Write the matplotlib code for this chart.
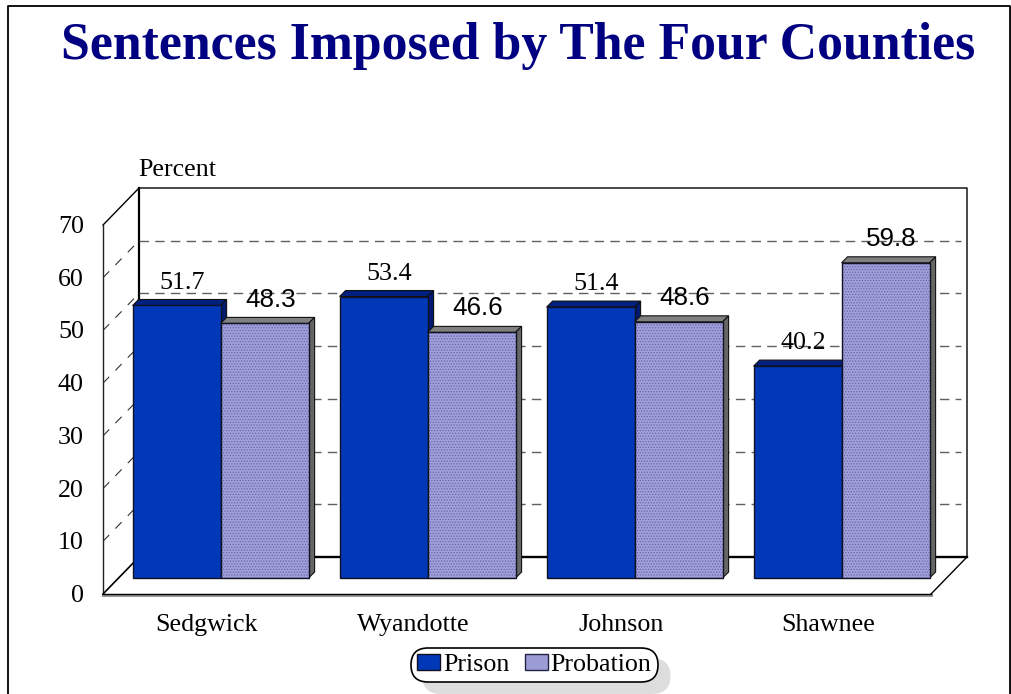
import matplotlib
matplotlib.use("Agg")
import matplotlib.pyplot as plt
from matplotlib.patches import Polygon, Patch

counties = ["Sedgwick", "Wyandotte", "Johnson", "Shawnee"]
prison = [51.7, 53.4, 51.4, 40.2]
probation = [48.3, 46.6, 48.6, 59.8]
yticks = [0, 10, 20, 30, 40, 50, 60, 70]

W, H = 1011, 694
SERIF = "Liberation Serif"
SANS = "Liberation Sans"
PX_PER_PCT = 5.271
GROUP_PX = 207.0
DEPTH = 6
FS = 18.7

fig = plt.figure(figsize=(W / 100, H / 100), dpi=100)

# box and outer frame live on a pixel axes under the bars
bg = fig.add_axes([0, 0, 1, 1])
bg.set_xlim(0, W)
bg.set_ylim(H, 0)
bg.axis("off")

# bars: x in group index, y in percent
ax = fig.add_axes([0, 0, 1, 1], facecolor="none")
ax.set_xlim(-220.6 / GROUP_PX, (W - 220.6) / GROUP_PX)
ax.set_ylim((578 - H) / PX_PER_PCT, 578 / PX_PER_PCT)
ax.axis("off")

dx = DEPTH / GROUP_PX
dy = DEPTH / PX_PER_PCT
bar_w = 88 / GROUP_PX


def front_y(v):
    return 594 - v * PX_PER_PCT


def back_y(v):
    return 557 - v * PX_PER_PCT


# outer frame
bg.plot([8.2, 8.2, 1010, 1010], [H, 5.5, 5.5, H], color="black", lw=1.3)

# 3d box
bg.plot([103, 139, 967, 967], [front_y(70), 188, 188, 557], color="black", lw=1)
bg.plot([139, 139], [188, 557], color="black", lw=1.6)
bg.plot([103, 103], [front_y(70), 594], color="#222222", lw=1)
bg.plot([103, 931], [594.6, 594.6], color="#999999", lw=2.2)
bg.plot([103, 931], [594, 594], color="black", lw=1)
bg.plot([103, 139], [594, 557], color="black", lw=1.2)
bg.plot([931, 967], [594, 557], color="black", lw=1)
bg.plot([139, 967], [557, 557], color="black", lw=1.7)

for v in yticks[1:-1]:
    bg.plot([139, 961], [back_y(v), back_y(v)], color="#606060", lw=1, dashes=(6.8, 4.5))
    bg.plot([103, 139], [front_y(v), back_y(v)], color="#333333", lw=0.8, dashes=(8, 8))
for v in yticks:
    bg.text(84, front_y(v) + 2, str(v), family=SERIF, fontsize=FS, ha="right", va="center")

bg.text(138.5, 170, "Percent", family=SERIF, fontsize=FS, ha="left", va="center")


def depth_faces(x0, x1, v, top_color, side_color, z):
    ax.add_patch(Polygon([(x0, v), (x0 + dx, v + dy), (x1 + dx, v + dy), (x1, v)],
                         facecolor=top_color, edgecolor="#111111", lw=0.8, zorder=z))
    ax.add_patch(Polygon([(x1, 0), (x1 + dx, dy), (x1 + dx, v + dy), (x1, v)],
                         facecolor=side_color, edgecolor="#111111", lw=0.8, zorder=z))


plt.rcParams["hatch.linewidth"] = 0.6
for i, (a, b) in enumerate(zip(prison, probation)):
    z = 3 + i
    depth_faces(i - bar_w, i, a, "#002080", "#001a70", z)
    ax.bar(i - bar_w / 2, a, bar_w, color="#0038b8", edgecolor="#111122", lw=1, zorder=z + 0.1)
    depth_faces(i, i + bar_w, b, "#808080", "#666666", z + 0.2)
    ax.bar(i + bar_w / 2, b, bar_w, color="#a0a0d8", edgecolor="#6464b4", lw=0, hatch="......", zorder=z + 0.3)
    ax.bar(i + bar_w / 2, b, bar_w, fill=False, edgecolor="#111122", lw=1, zorder=z + 0.4)

    ax.annotate(f"{a}", (i - bar_w / 2 + dx, a), xytext=(0, 16.5), textcoords="offset points",
                family=SERIF, fontsize=FS, ha="center", va="center", zorder=20)
    ax.annotate(f"{b}", (i + bar_w / 2 + dx, b), xytext=(0, 17.2), textcoords="offset points",
                family=SANS, fontsize=FS, ha="center", va="center", zorder=20)
    ax.annotate(counties[i], (i, 0), xytext=(-10, -33.5), textcoords="offset points",
                family=SERIF, fontsize=FS, ha="center", va="center")

handles = [Patch(facecolor="#0038b8", edgecolor="#111122", lw=1, label="Prison"),
           Patch(facecolor="#9c9cd6", edgecolor="#222244", lw=1, label="Probation")]
leg = fig.legend(handles=handles, ncol=2, loc="center", bbox_to_anchor=(534.5 / W, 1 - 665 / H),
                 prop={"family": SERIF, "size": FS}, fancybox=True, framealpha=1,
                 edgecolor="black", handlelength=0.88, handleheight=0.55, handletextpad=0.12,
                 columnspacing=0.58, borderpad=0.23, borderaxespad=0,
                 shadow={"color": "#dddddd", "alpha": 1, "ox": 8.6, "oy": -8})
leg.get_frame().set_linewidth(1.2)
leg.get_frame().set_boxstyle("round", pad=0, rounding_size=0.65)

fig.text(518 / W, 1 - 46.5 / H, "Sentences Imposed by The Four Counties", family=SERIF,
         fontsize=37.3, fontweight="bold", color="#000080", ha="center", va="center")

fig.savefig("out.png", dpi=100)
